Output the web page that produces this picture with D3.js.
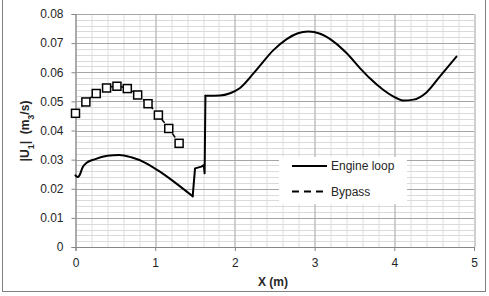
<!DOCTYPE html>
<html>
<head>
<meta charset="utf-8">
<script src="https://cdn.jsdelivr.net/npm/d3@7"></script>
<style>
  body { margin: 0; background: #fff; }
  text { font-family: "Liberation Sans", Arial, sans-serif; fill: #262626; }
</style>
</head>
<body>
<div id="chart-area"></div>
<script>
// data
var engineX = [0, 0.025, 0.05, 0.09, 0.14, 0.24, 0.40, 0.55, 0.70, 0.87, 1.04, 1.25, 1.47,
               1.50, 1.58, 1.61, 1.62, 1.63, 1.81, 1.94, 2.06, 2.23, 2.31, 2.48, 2.65, 2.79,
               2.92, 3.07, 3.23, 3.40, 3.59, 3.69, 3.86, 3.98, 4.11, 4.24, 4.40, 4.57, 4.78];
var engineY = [0.0246, 0.0240, 0.0246, 0.0274, 0.0289, 0.0301, 0.0313, 0.0316, 0.0308, 0.0290,
               0.0262, 0.0221, 0.0174, 0.0270, 0.0276, 0.0281, 0.0253, 0.0519, 0.0520, 0.0528,
               0.0545, 0.0595, 0.0621, 0.0675, 0.0714, 0.0734, 0.0740, 0.0732, 0.0707, 0.0666,
               0.0608, 0.0580, 0.0540, 0.0518, 0.0503, 0.0506, 0.0530, 0.0585, 0.0654];
// index where the engine loop has sharp corners (jumps)
var engineBreaks = [12, 17];
var bypassX = [0, 0.13, 0.26, 0.39, 0.52, 0.65, 0.78, 0.91, 1.04, 1.17, 1.30];
var bypassY = [0.0459, 0.0498, 0.0527, 0.0546, 0.0552, 0.0544, 0.0522, 0.0492, 0.0453, 0.0407, 0.0356];
var xTicks = [0, 1, 2, 3, 4, 5];
var yTicks = [0, 0.01, 0.02, 0.03, 0.04, 0.05, 0.06, 0.07, 0.08];
var seriesNames = ["Engine loop", "Bypass"];

var W = 489, H = 296;
var margin = {left: 75.5, right: 15, top: 14, bottom: 49};
var width = W - margin.left - margin.right,
    height = H - margin.top - margin.bottom;

var root = d3.select("#chart-area")
  .append("svg")
    .attr("width", W)
    .attr("height", H);

// outer chart border
root.append("rect")
    .attr("x", 2.5).attr("y", -1)
    .attr("width", 483).attr("height", 292.5)
    .attr("fill", "none")
    .attr("stroke", "#7f7f7f")
    .attr("stroke-width", 1);

var svg = root.append("g")
    .attr("transform", "translate(" + margin.left + "," + margin.top + ")");

var x = d3.scaleLinear().domain([0, 5]).range([0, width]);
var y = d3.scaleLinear().domain([0, 0.08]).range([height, 0]);

// minor gridlines
var minorX = d3.range(0, 5.001, 0.2);
var minorY = d3.range(0, 0.0801, 0.002);
svg.append("g").selectAll("line").data(minorX).enter().append("line")
    .attr("x1", function(d) { return Math.round(x(d)) + 0.5; })
    .attr("x2", function(d) { return Math.round(x(d)) + 0.5; })
    .attr("y1", 0).attr("y2", height)
    .attr("stroke", "#dedede");
svg.append("g").selectAll("line").data(minorY).enter().append("line")
    .attr("y1", function(d) { return Math.round(y(d)) + 0.5; })
    .attr("y2", function(d) { return Math.round(y(d)) + 0.5; })
    .attr("x1", 0).attr("x2", width)
    .attr("stroke", "#dadada");

// major gridlines
svg.append("g").selectAll("line").data(xTicks).enter().append("line")
    .attr("x1", function(d) { return Math.round(x(d)) + 0.5; })
    .attr("x2", function(d) { return Math.round(x(d)) + 0.5; })
    .attr("y1", 0).attr("y2", height)
    .attr("stroke", "#b0b0b0");
svg.append("g").selectAll("line").data(yTicks).enter().append("line")
    .attr("y1", function(d) { return Math.round(y(d)) + 0.5; })
    .attr("y2", function(d) { return Math.round(y(d)) + 0.5; })
    .attr("x1", 0).attr("x2", width)
    .attr("stroke", "#a6a6a6");

// axes
var xAxis = svg.append("g")
    .attr("transform", "translate(0," + height + ")")
    .call(d3.axisBottom(x).tickValues(xTicks).tickFormat(d3.format("d")).tickSize(4).tickPadding(7));
var yAxis = svg.append("g")
    .call(d3.axisLeft(y).tickValues(yTicks).tickFormat(function(d) { return d === 0 ? "0" : d3.format(".2f")(d); })
      .tickSize(4).tickPadding(8));
[xAxis, yAxis].forEach(function(a) {
  a.selectAll("path, line").attr("stroke", "#868686");
  a.selectAll("text").attr("font-size", "12px").attr("fill", "#262626")
    .attr("font-family", "Liberation Sans, Arial, sans-serif");
});

// axis titles
svg.append("text")
    .attr("x", 273 - margin.left)
    .attr("y", 286 - margin.top)
    .attr("text-anchor", "middle")
    .attr("font-size", "12px")
    .attr("font-weight", "bold")
    .text("X (m)");

var yTitle = svg.append("text")
    .attr("transform", "translate(" + (29 - margin.left) + "," + (131 - margin.top) + ") rotate(-90)")
    .attr("text-anchor", "middle")
    .attr("font-size", "12px")
    .attr("font-weight", "bold");
yTitle.append("tspan").text("|U");
yTitle.append("tspan").attr("baseline-shift", "sub").attr("font-size", "9px").text("1");
yTitle.append("tspan").text("|\u00a0\u00a0(m");
yTitle.append("tspan").attr("baseline-shift", "sub").attr("font-size", "9px").text("3");
yTitle.append("tspan").text("/s)");

// lines
var smooth = d3.line()
    .curve(d3.curveMonotoneX)
    .x(function(d) { return x(d[0]); })
    .y(function(d) { return y(d[1]); });
var straight = d3.line()
    .x(function(d) { return x(d[0]); })
    .y(function(d) { return y(d[1]); });

var engine = engineX.map(function(v, i) { return [v, engineY[i]]; });
var bypass = bypassX.map(function(v, i) { return [v, bypassY[i]]; });

// engine loop: smooth pieces joined by the straight jump section
var pieces = [
  {pts: engine.slice(0, engineBreaks[0] + 1), gen: smooth},
  {pts: engine.slice(engineBreaks[0], engineBreaks[1] + 1), gen: straight},
  {pts: engine.slice(engineBreaks[1]), gen: smooth}
];
svg.append("g").selectAll("path")
    .data(pieces)
  .enter().append("path")
    .attr("d", function(p) { return p.gen(p.pts); })
    .attr("fill", "none")
    .attr("stroke", "#000")
    .attr("stroke-width", 2)
    .attr("stroke-linejoin", "round")
    .attr("stroke-linecap", "round");

svg.append("path")
    .datum(bypass)
    .attr("d", smooth)
    .attr("fill", "none")
    .attr("stroke", "#000")
    .attr("stroke-width", 1.5)
    .attr("stroke-dasharray", "5,4");

svg.append("g").selectAll("rect")
    .data(bypass)
  .enter().append("rect")
    .attr("x", function(d) { return x(d[0]) - 4; })
    .attr("y", function(d) { return y(d[1]) - 4; })
    .attr("width", 8).attr("height", 8)
    .attr("fill", "#fff")
    .attr("stroke", "#000")
    .attr("stroke-width", 1.5);

// legend
var legend = root.append("g").attr("transform", "translate(279,157)");
legend.append("rect")
    .attr("width", 128).attr("height", 47)
    .attr("fill", "#fff");
seriesNames.forEach(function(name, i) {
  var ly = 9 + i * 25.5;
  legend.append("line")
      .attr("x1", 13).attr("x2", 48)
      .attr("y1", ly).attr("y2", ly)
      .attr("stroke", "#000")
      .attr("stroke-width", 2)
      .attr("stroke-dasharray", i === 1 ? "7,5" : null);
  legend.append("text")
      .attr("x", 52).attr("y", ly + 4)
      .attr("font-size", "12px")
      .text(name);
});
</script>
</body>
</html>
